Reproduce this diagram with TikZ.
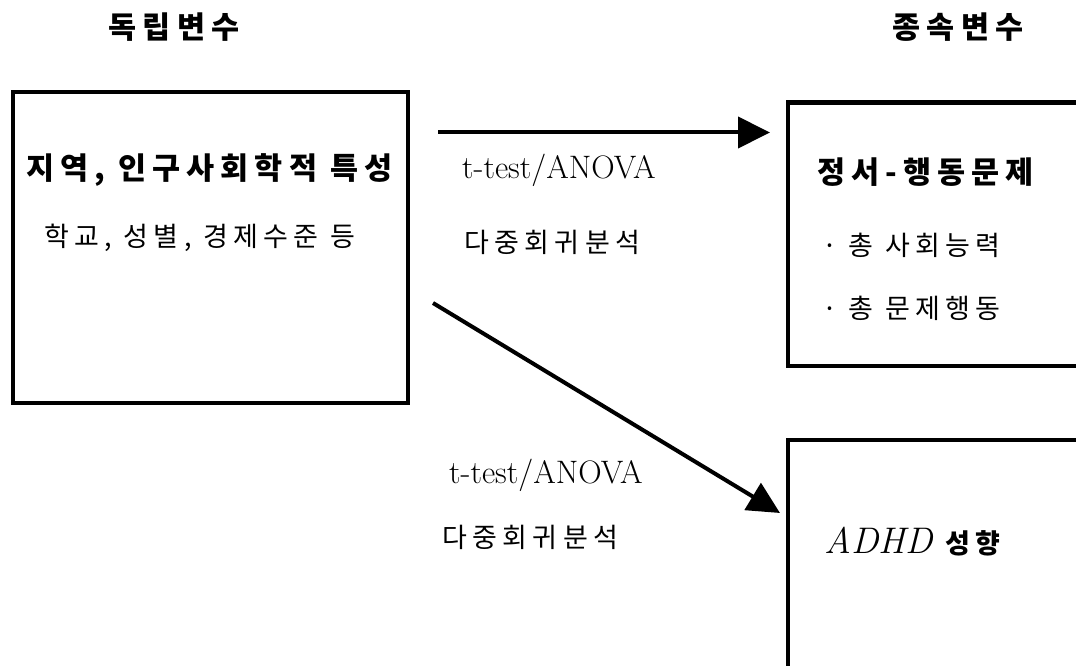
\documentclass[tikz,border=0pt]{standalone}
\usepackage{fontspec}
\usetikzlibrary{arrows.meta}
\newfontfamily\kr[LetterSpace=20]{Noto Sans CJK KR}
\begin{document}
\begin{tikzpicture}[x=1pt,y=-1pt,
  frame/.style={draw, line width=4.2pt, inner sep=0pt, anchor=north west},
  arr/.style={line width=4pt, -{Triangle[length=32pt,width=31pt]}},
  ttl/.style={inner sep=0pt, font=\kr\bfseries\fontsize{30.5}{36}\selectfont},
  txt/.style={inner sep=0pt, anchor=west, font=\kr\fontsize{27}{32}\selectfont},
  lat/.style={inner sep=0pt, anchor=west, font=\fontsize{32.5}{38}\selectfont}]
\useasboundingbox (0,0) rectangle (1076,666);
\clip (0,0) rectangle (1076,666);
% boxes
\node[frame, minimum width=395.5pt, minimum height=310.5pt] (L) at (10.5,90) {};
\node[frame, minimum width=330pt, minimum height=263.5pt] (R1) at (786,100.5) {};
\node[frame, minimum width=330pt, minimum height=260pt] (R2) at (786,437.5) {};
% titles
\node[ttl] (T1) at (174,27) {독립변수};
\node[ttl] (T2) at (958,27) {종속변수};
% left box text
\node[ttl, anchor=west] (N1) at (26,170) {지역, 인구사회학적 특성};
\node[txt] (N2) at (44,238) {학교, 성별, 경제수준 등};
% right box texts
\node[ttl, anchor=west] (B1) at (817,172) {정서-행동문제};
\node[txt] (B1a) at (822,245) {· 총 사회능력};
\node[txt] (B1b) at (822,308) {· 총 문제행동};
\node[inner sep=0pt, anchor=west] (B2) at (824,542) {{\fontsize{37}{42}\selectfont\itshape ADHD}\hspace{13pt}{\kr\bfseries\fontsize{27}{32}\selectfont 성향}};
% edge labels
\node[lat] (E1a) at (462,170) {t-test/ANOVA};
\node[txt] (E1b) at (464,242) {다중회귀분석};
\node[lat] (E2a) at (449,475) {t-test/ANOVA};
\node[txt] (E2b) at (442,537) {다중회귀분석};
% connectors
\coordinate (a1s) at (438,132.5);
\coordinate (a2s) at (433,303);
\coordinate (a2e) at (780,513);
\draw[arr, shorten >=16pt] (a1s) -- (a1s -| R1.west);
\draw[arr] (a2s) -- (a2e);
\end{tikzpicture}
\end{document}
